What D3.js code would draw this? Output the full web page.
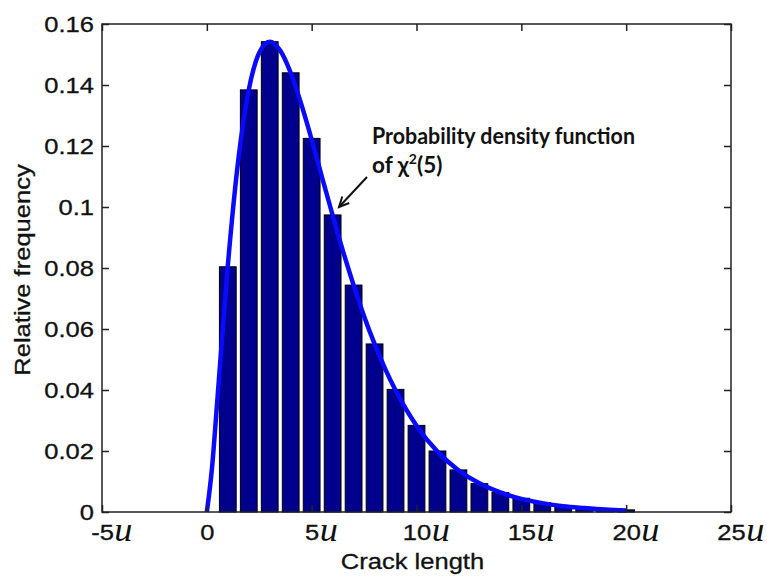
<!DOCTYPE html>
<html>
<head>
<meta charset="utf-8">
<script src="https://cdn.jsdelivr.net/npm/d3@7"></script>
<style>
  html, body { margin: 0; padding: 0; background: #fff; }
  svg { display: block; }
</style>
</head>
<body>
<svg id="chart" width="767" height="577"></svg>
<script>
// Histogram bins: bin centre (crack length in units of u) and relative frequency
const binCenters = [1, 2, 3, 4, 5, 6, 7, 8, 9, 10, 11, 12, 13, 14, 15, 16, 17, 18, 19, 20];
const relFreq = [0.0804, 0.1384, 0.1542, 0.1440, 0.1225, 0.0974, 0.0744, 0.0551, 0.0402, 0.0284,
                 0.0200, 0.0138, 0.0093, 0.0064, 0.0045, 0.0031, 0.0020, 0.0014, 0.0010, 0.0007];

// Density curve of chi-square with 5 degrees of freedom
const pdfX = [0, 0.25, 0.5, 1, 1.5, 2, 2.5, 3, 3.5, 4, 4.5, 5, 5.5, 6, 6.5, 7, 7.5, 8, 8.5, 9, 9.5, 10,
              11, 12, 13, 14, 15, 16, 17, 18, 19, 20];
const pdfY = [0, 0.0147, 0.0366, 0.0807, 0.1154, 0.1384, 0.1506, 0.1542, 0.1513, 0.1440, 0.1338, 0.1221,
              0.1096, 0.0973, 0.0854, 0.0744, 0.0642, 0.0551, 0.0470, 0.0399, 0.0337, 0.0283,
              0.0198, 0.0137, 0.0094, 0.0064, 0.0043, 0.0029, 0.0019, 0.0013, 0.0008, 0.0005];

// Axis ticks
const xTicks = [-5, 0, 5, 10, 15, 20, 25];
const yTicks = [0, 0.02, 0.04, 0.06, 0.08, 0.1, 0.12, 0.14, 0.16];

const svg = d3.select("#chart");
const plotLeft = 102, plotRight = 731, plotTop = 24, plotBottom = 512;
const STRETCH = 1.16;
const sansFont = "'Liberation Sans', Arial, Helvetica, sans-serif";

const x = d3.scaleLinear().domain([-5, 25]).range([plotLeft, plotRight]);
const y = d3.scaleLinear().domain([0, 0.16]).range([plotBottom, plotTop]);

function widen(sel, factor) {
  sel.each(function () {
    const len = this.getComputedTextLength();
    d3.select(this).attr("textLength", len * factor).attr("lengthAdjust", "spacingAndGlyphs");
  });
}

// Bars (width 0.8 of a bin)
const barW = x(0.8) - x(0);
svg.append("g").selectAll("rect")
  .data(binCenters.map((c, i) => ({ c, v: relFreq[i] })))
  .join("rect")
  .attr("x", d => x(d.c) - barW / 2)
  .attr("y", d => y(d.v))
  .attr("width", barW)
  .attr("height", d => y(0) - y(d.v))
  .attr("fill", "#00008c")
  .attr("stroke", "#000")
  .attr("stroke-width", 1);

// Density curve
const line = d3.line().x(d => x(d[0])).y(d => y(d[1])).curve(d3.curveMonotoneX);
svg.append("path")
  .datum(pdfX.map((v, i) => [v, pdfY[i]]))
  .attr("d", line)
  .attr("fill", "none")
  .attr("stroke", "#0a0aff")
  .attr("stroke-width", 4.5)
  .attr("stroke-linejoin", "round");

// Axes with inward ticks on all four sides
const tickLen = 7;
const gx = svg.append("g").attr("transform", `translate(0,${plotBottom})`)
  .call(d3.axisBottom(x).tickValues(xTicks).tickSizeInner(-tickLen).tickSizeOuter(0)
        .tickPadding(12).tickFormat(d => String(d)));
svg.append("g").attr("transform", `translate(0,${plotTop})`)
  .call(d3.axisTop(x).tickValues(xTicks).tickSizeInner(-tickLen).tickSizeOuter(0).tickFormat(""));
const gy = svg.append("g").attr("transform", `translate(${plotLeft},0)`)
  .call(d3.axisLeft(y).tickValues(yTicks).tickSizeInner(-tickLen).tickSizeOuter(0)
        .tickPadding(8).tickFormat(d => d === 0 ? "0" : String(+d.toFixed(2))));
svg.append("g").attr("transform", `translate(${plotRight},0)`)
  .call(d3.axisRight(y).tickValues(yTicks).tickSizeInner(-tickLen).tickSizeOuter(0).tickFormat(""));

svg.selectAll(".domain").remove();
svg.selectAll(".tick line").attr("stroke", "#222").attr("stroke-width", 1.5);

[gx, gy].forEach(g => g.selectAll("text")
  .attr("font-family", sansFont).attr("font-size", 22).attr("fill", "#111")
  .attr("stroke", "#111").attr("stroke-width", 0.3));
gy.selectAll(".tick text").call(widen, STRETCH);

// x tick labels: number centred on the tick followed by an italic "u"
gx.selectAll(".tick").each(function (d) {
  const t = d3.select(this).select("text");
  const len = t.node().getComputedTextLength() * STRETCH;
  t.attr("textLength", len).attr("lengthAdjust", "spacingAndGlyphs");
  if (d !== 0) {
    const yy = +t.attr("y");
    d3.select(this).append("text")
      .attr("x", len / 2 + 0.5)
      .attr("y", yy)
      .attr("dy", "0.71em")
      .attr("text-anchor", "start")
      .attr("font-family", "'Liberation Serif', 'Times New Roman', serif")
      .attr("font-style", "italic")
      .attr("font-size", 33)
      .attr("fill", "#111")
      .attr("transform", "translate(0,-6)")
      .text("u")
      .call(widen, 1.1);
  }
});

// Frame
svg.append("rect")
  .attr("x", plotLeft).attr("y", plotTop)
  .attr("width", plotRight - plotLeft).attr("height", plotBottom - plotTop)
  .attr("fill", "none").attr("stroke", "#222").attr("stroke-width", 1.5);

// Axis titles
svg.append("text")
  .attr("x", (plotLeft + plotRight) / 2 - 4).attr("y", 569)
  .attr("text-anchor", "middle")
  .attr("font-family", sansFont).attr("font-size", 22).attr("fill", "#111")
  .attr("stroke", "#111").attr("stroke-width", 0.3)
  .text("Crack length").call(widen, STRETCH);

svg.append("text")
  .attr("transform", "translate(30,270) rotate(-90)")
  .attr("text-anchor", "middle")
  .attr("font-family", sansFont).attr("font-size", 22).attr("fill", "#111")
  .attr("stroke", "#111").attr("stroke-width", 0.3)
  .text("Relative frequency").call(widen, STRETCH);

// Annotation
const annFont = "Lato, 'Open Sans', sans-serif";
const ann = svg.append("g").attr("font-family", annFont).attr("font-weight", "bold")
  .attr("font-size", 22.5).attr("fill", "#111");
ann.append("text").attr("x", 372).attr("y", 144).text("Probability density function")
  .attr("textLength", 263).attr("lengthAdjust", "spacingAndGlyphs");
const l2 = ann.append("text").attr("x", 372).attr("y", 173);
l2.append("tspan").text("of \u03C7");
l2.append("tspan").attr("font-size", 14).attr("dy", -9).text("2");
l2.append("tspan").attr("dy", 9).text("(5)");

// Arrow pointing at the curve
const ax0 = 367, ay0 = 177, ax1 = 339, ay1 = 207;
svg.append("line")
  .attr("x1", ax0).attr("y1", ay0).attr("x2", ax1).attr("y2", ay1)
  .attr("stroke", "#111").attr("stroke-width", 2);
const ang = Math.atan2(ay1 - ay0, ax1 - ax0);
const hl = 11, hw = 0.45;
const head = [
  [ax1 - hl * Math.cos(ang - hw), ay1 - hl * Math.sin(ang - hw)],
  [ax1, ay1],
  [ax1 - hl * Math.cos(ang + hw), ay1 - hl * Math.sin(ang + hw)]
];
svg.append("path").attr("d", d3.line()(head))
  .attr("fill", "none").attr("stroke", "#111").attr("stroke-width", 2)
  .attr("stroke-linejoin", "miter");
</script>
</body>
</html>
